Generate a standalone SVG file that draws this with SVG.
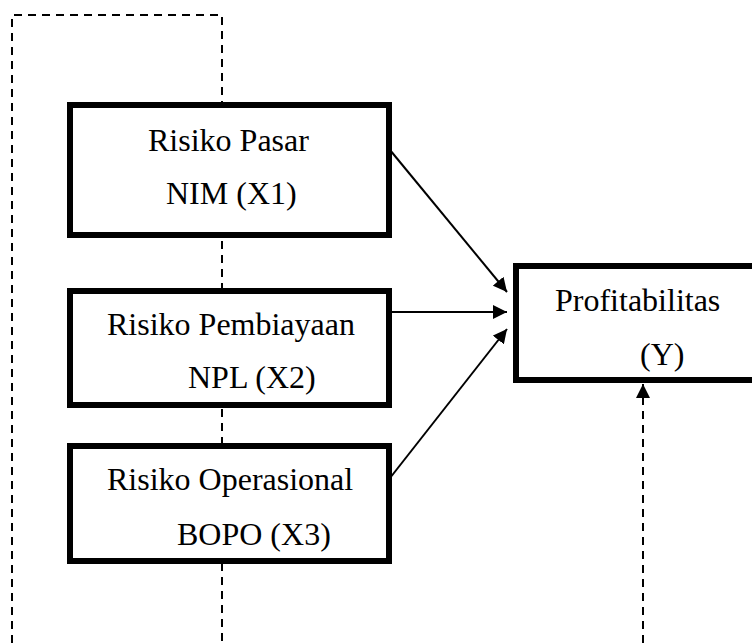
<svg xmlns="http://www.w3.org/2000/svg" width="752" height="643" viewBox="0 0 752 643">
  <style>
    .box { fill: #ffffff; stroke: #000000; stroke-width: 6; }
    .lbl { font-family: "Liberation Serif", "Times New Roman", serif; font-size: 32px; fill: #000000; }
    .solid { fill: none; stroke: #000000; stroke-width: 2; }
    .dash { fill: none; stroke: #000000; stroke-width: 2; stroke-dasharray: 8 6; }
  </style>
  <defs>
    <marker id="arrow" markerUnits="userSpaceOnUse" markerWidth="14" markerHeight="14" viewBox="0 0 14 14" refX="14" refY="7" orient="auto">
      <path d="M0,0 L14,7 L0,14 Z" fill="#000000"/>
    </marker>
  </defs>
  <rect width="752" height="643" fill="#ffffff"/>
  <g id="connectors">
    <path class="dash" d="M12,643 V15 H222 V643"/>
    <path class="dash" d="M643,643 V384" marker-end="url(#arrow)"/>
    <line class="solid" x1="390" y1="150" x2="507" y2="292" marker-end="url(#arrow)"/>
    <line class="solid" x1="392" y1="312" x2="507" y2="312" marker-end="url(#arrow)"/>
    <line class="solid" x1="390" y1="478" x2="507" y2="329" marker-end="url(#arrow)"/>
  </g>
  <g id="node-x1">
    <rect class="box" x="70" y="105" width="319" height="130"/>
    <text class="lbl" x="148" y="151">Risiko Pasar</text>
    <text class="lbl" x="166" y="204">NIM (X1)</text>
  </g>
  <g id="node-x2">
    <rect class="box" x="70" y="291" width="319" height="114"/>
    <text class="lbl" x="107" y="335">Risiko Pembiayaan</text>
    <text class="lbl" x="188" y="388">NPL (X2)</text>
  </g>
  <g id="node-x3">
    <rect class="box" x="70" y="446" width="319" height="115"/>
    <text class="lbl" x="107" y="490">Risiko Operasional</text>
    <text class="lbl" x="177" y="545">BOPO (X3)</text>
  </g>
  <g id="node-y">
    <rect class="box" x="516" y="266" width="300" height="114"/>
    <text class="lbl" x="555" y="311">Profitabilitas</text>
    <text class="lbl" x="640" y="365">(Y)</text>
  </g>
</svg>
